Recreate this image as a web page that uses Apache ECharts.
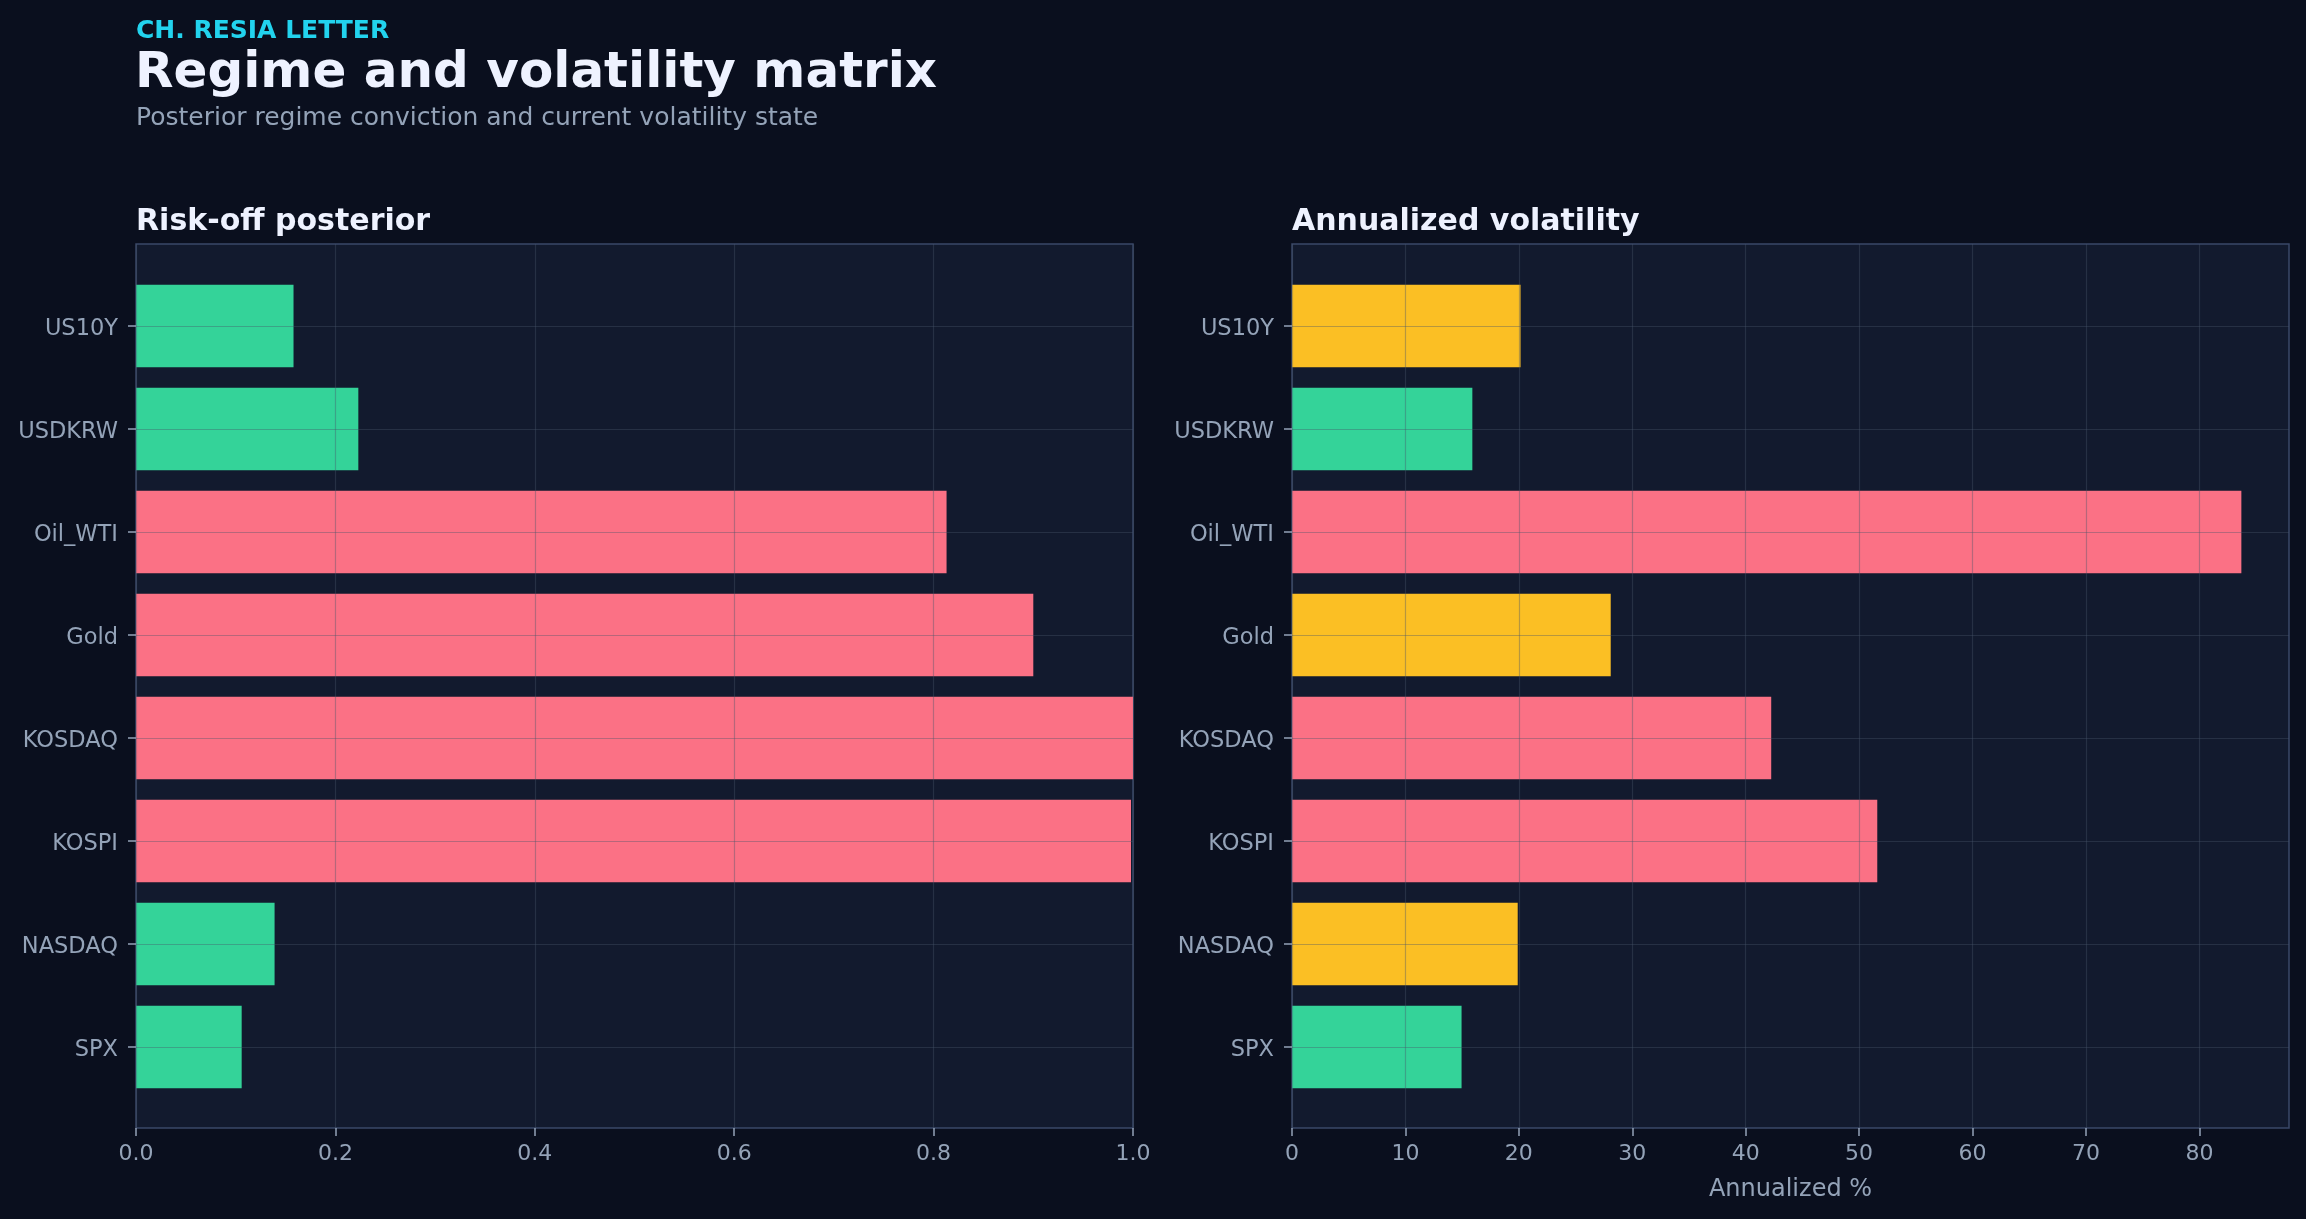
<!DOCTYPE html>
<html>
<head>
<meta charset="utf-8">
<title>Regime and volatility matrix</title>
<script src="https://cdn.jsdelivr.net/npm/echarts@6/dist/echarts.min.js"></script>
<style>
  html, body { margin: 0; padding: 0; background: #0a0f1e; }
  #chart { width: 2306px; height: 1219px; }
</style>
</head>
<body>
<div id="chart"></div>
<script>
// assets, listed top to bottom as they are drawn
var assets = ['US10Y', 'USDKRW', 'Oil_WTI', 'Gold', 'KOSDAQ', 'KOSPI', 'NASDAQ', 'SPX'];
var riskOffPosterior = [0.158, 0.223, 0.813, 0.900, 1.000, 0.998, 0.139, 0.106];
var posteriorRegime = ['risk-on', 'risk-on', 'risk-off', 'risk-off', 'risk-off', 'risk-off', 'risk-on', 'risk-on'];
var annualizedVol = [20.15, 15.9, 83.7, 28.1, 42.25, 51.6, 19.9, 14.95];
var volState = ['mid', 'low', 'high', 'mid', 'high', 'high', 'mid', 'low'];
var posteriorTicks = [0, 0.2, 0.4, 0.6, 0.8, 1.0];
var volTicks = [0, 10, 20, 30, 40, 50, 60, 70, 80];

var GREEN = '#34d399', PINK = '#fb7185', AMBER = '#fbbf24';
var regimeColor = { 'risk-on': GREEN, 'risk-off': PINK };
var volColor = { low: GREEN, mid: AMBER, high: PINK };

var FONT = 'DejaVu Sans';
var MUTED = '#94a3b8';
var GRIDLINE = 'rgba(71,85,105,0.38)';
var SPINE = '#3a4868';

// frame spans the whole axes box, bars sit on an inner grid whose
// first/last category line up with matplotlib's padded y-range
var FRAME_TOP = 244, FRAME_H = 884;
var BAR_TOP = 326, BAR_H = 721;

function panel(i, left, xMax, ticks, fmt, values, colors, xName) {
  var grids = [
    { left: left, top: FRAME_TOP, width: 997, height: FRAME_H, show: true,
      backgroundColor: '#121a2e', borderColor: SPINE, borderWidth: 1.5 },
    { left: left, top: BAR_TOP, width: 997, height: BAR_H, show: false }
  ];
  var xAxes = [
    { gridIndex: i * 2, type: 'value', min: 0, max: xMax, z: 3,
      name: xName || '', nameLocation: 'middle', nameGap: 50,
      nameTextStyle: { color: MUTED, fontFamily: FONT, fontSize: 24 },
      axisLine: { show: false },
      axisTick: { show: true, length: 8, lineStyle: { color: MUTED, width: 1.5 }, customValues: ticks },
      axisLabel: { color: MUTED, fontFamily: FONT, fontSize: 22, margin: 15, customValues: ticks, formatter: fmt },
      splitLine: { show: true, lineStyle: { color: GRIDLINE, width: 1.2 } } },
    { gridIndex: i * 2 + 1, type: 'value', min: 0, max: xMax, show: false }
  ];
  var yAxes = [
    { gridIndex: i * 2, type: 'value', min: 0, max: 1, show: false },
    { gridIndex: i * 2 + 1, type: 'category', data: assets, inverse: true, boundaryGap: false, z: 3,
      axisLine: { show: false },
      axisTick: { show: true, length: 8, lineStyle: { color: MUTED, width: 1.5 } },
      axisLabel: { color: MUTED, fontFamily: FONT, fontSize: 22.5, margin: 18,
        verticalAlign: 'top', lineHeight: 6 },
      splitLine: { show: true, lineStyle: { color: GRIDLINE, width: 1.2 } } }
  ];
  var series = [{
    type: 'bar', xAxisIndex: i * 2 + 1, yAxisIndex: i * 2 + 1, barWidth: '80%',
    data: values.map(function (v, k) { return { value: v, itemStyle: { color: colors[k] } }; })
  }];
  return { grids: grids, xAxes: xAxes, yAxes: yAxes, series: series };
}

var pL = panel(0, 136, 1, posteriorTicks, function (v) { return v.toFixed(1); },
  riskOffPosterior, posteriorRegime.map(function (r) { return regimeColor[r]; }));
var pR = panel(1, 1292, 87.9, volTicks, function (v) { return String(v); },
  annualizedVol, volState.map(function (s) { return volColor[s]; }), 'Annualized %');

var chart = echarts.init(document.getElementById('chart'));
chart.setOption({
  backgroundColor: '#0a0f1e',
  animation: false,
  title: [
    { text: 'CH. RESIA LETTER', left: 136, top: 18.5, padding: 0,
      textStyle: { color: '#22d3ee', fontFamily: FONT, fontSize: 25, fontWeight: 'bold' } },
    { text: 'Regime and volatility matrix', left: 135, top: 49, padding: 0,
      textStyle: { color: '#eef2ff', fontFamily: FONT, fontSize: 50, fontWeight: 'bold' } },
    { text: 'Posterior regime conviction and current volatility state', left: 136, top: 106, padding: 0,
      textStyle: { color: MUTED, fontFamily: FONT, fontSize: 25, fontWeight: 'normal' } },
    { text: 'Risk-off posterior', left: 136, top: 207.5, padding: 0,
      textStyle: { color: '#eef2ff', fontFamily: FONT, fontSize: 30, fontWeight: 'bold' } },
    { text: 'Annualized volatility', left: 1292, top: 207.5, padding: 0,
      textStyle: { color: '#eef2ff', fontFamily: FONT, fontSize: 30, fontWeight: 'bold' } }
  ],
  grid: pL.grids.concat(pR.grids),
  xAxis: pL.xAxes.concat(pR.xAxes),
  yAxis: pL.yAxes.concat(pR.yAxes),
  series: pL.series.concat(pR.series)
});
</script>
</body>
</html>
